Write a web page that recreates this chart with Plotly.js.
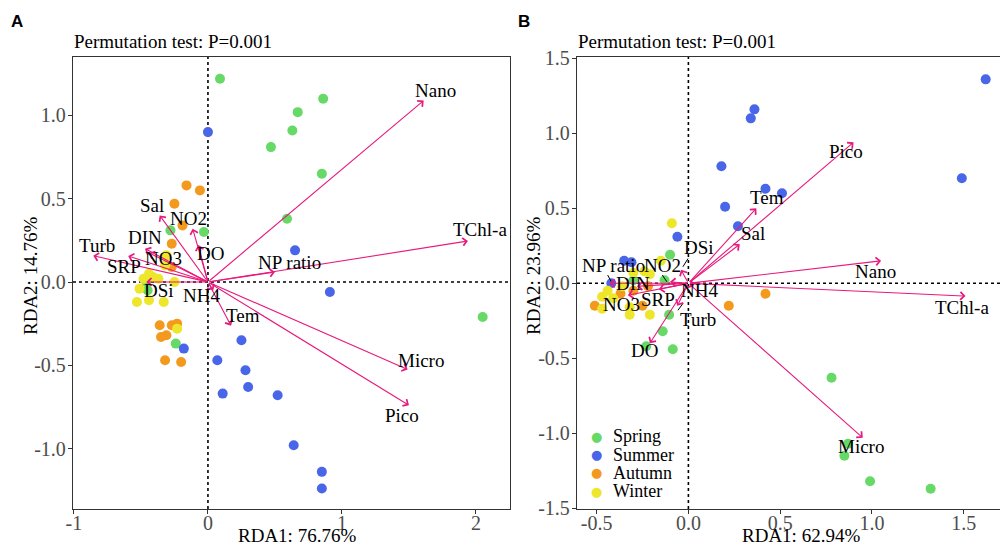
<!DOCTYPE html>
<html>
<head>
<meta charset="utf-8">
<script src="https://cdn.plot.ly/plotly-3.0.1.min.js"></script>
<style>html,body{margin:0;padding:0;background:#fff;}#chart{width:1000px;height:546px;}</style>
</head>
<body>
<div id="chart"></div>
<script>
// ---------- Data ----------
const seasons = ['Spring', 'Summer', 'Autumn', 'Winter'];
const seasonColors = ['#66D966', '#4A66E8', '#F39A1E', '#EDE62A'];

// Panel A sample scores
const A_spring_x = [0.09, 0.86, 0.67, 0.63, 0.47, 0.85, 0.59, -0.03, -0.28, 2.05, -0.24, -0.46, -0.45];
const A_spring_y = [1.22, 1.10, 1.02, 0.91, 0.81, 0.65, 0.38, 0.30, 0.31, -0.21, -0.37, 0.00, -0.05];
const A_summer_x = [0.00, 0.65, 0.91, 0.25, 0.07, 0.28, 0.30, 0.11, 0.52, 0.64, 0.85, 0.85, -0.18];
const A_summer_y = [0.90, 0.19, -0.06, -0.35, -0.47, -0.53, -0.63, -0.67, -0.68, -0.98, -1.14, -1.24, -0.40];
const A_autumn_x = [-0.16, -0.06, -0.25, -0.19, -0.27, -0.27, -0.36, -0.27, -0.23, -0.31, -0.35, -0.32, -0.20];
const A_autumn_y = [0.58, 0.55, 0.47, 0.34, 0.23, 0.09, -0.26, -0.26, -0.25, -0.32, -0.33, -0.47, -0.48];
const A_winter_x = [-0.31, -0.32, -0.48, -0.44, -0.37, -0.25, -0.51, -0.53, -0.44, -0.33, -0.23, -0.41];
const A_winter_y = [0.16, 0.10, 0.02, 0.05, 0.02, 0.00, -0.04, -0.12, -0.11, -0.12, -0.28, 0.03];

// Panel A environmental arrows
const A_env = ['Nano', 'TChl-a', 'NP ratio', 'Micro', 'Pico', 'Tem', 'NH4', 'DO', 'NO2', 'Sal', 'DIN', 'NO3', 'Turb', 'SRP', 'DSi'];
const A_arrow_x = [1.61, 1.94, 0.50, 1.49, 1.50, 0.172, 0.04, -0.072, -0.114, -0.36, -0.47, -0.44, -0.856, -0.595, -0.46];
const A_arrow_y = [1.09, 0.246, 0.06, -0.525, -0.74, -0.262, -0.05, 0.222, 0.32, 0.40, 0.20, 0.175, 0.158, 0.156, 0.0];
const A_label_x = [1.70, 2.03, 0.61, 1.59, 1.45, 0.26, -0.047, 0.022, -0.147, -0.415, -0.47, -0.33, -0.83, -0.63, -0.366];
const A_label_y = [1.15, 0.315, 0.12, -0.47, -0.80, -0.20, -0.084, 0.172, 0.38, 0.46, 0.27, 0.14, 0.22, 0.096, -0.054];

// Panel B sample scores
const B_spring_x = [-0.10, -0.13, -0.105, -0.14, -0.085, -0.23, 0.78, 0.87, 0.85, 0.99, 1.32, -0.30];
const B_spring_y = [0.19, 0.02, -0.21, -0.32, -0.44, -0.42, -0.63, -1.07, -1.15, -1.32, -1.37, 0.02];
const B_summer_x = [1.62, 0.36, 0.34, 0.18, 0.42, 0.51, 0.20, 1.49, 0.27, -0.06, -0.35, -0.31, -0.42];
const B_summer_y = [1.36, 1.16, 1.10, 0.78, 0.63, 0.60, 0.51, 0.70, 0.38, 0.31, 0.15, 0.14, 0.00];
const B_autumn_x = [0.42, 0.22, -0.51, -0.25, -0.22, -0.37, -0.30];
const B_autumn_y = [-0.07, -0.15, -0.15, -0.15, -0.02, -0.07, -0.05];
const B_winter_x = [-0.09, -0.15, -0.21, -0.30, -0.24, -0.44, -0.47, -0.41, -0.47, -0.32, -0.32, -0.21, -0.36];
const B_winter_y = [0.40, 0.15, 0.06, 0.07, 0.08, -0.05, -0.09, -0.10, -0.17, -0.16, -0.21, -0.21, -0.02];

// Panel B environmental arrows
const B_env = ['Pico', 'Tem', 'Sal', 'DSi', 'Nano', 'TChl-a', 'Micro', 'DO', 'Turb', 'NH4', 'SRP', 'NO3', 'DIN', 'NP ratio', 'NO2'];
const B_arrow_x = [0.90, 0.37, 0.28, -0.04, 1.05, 1.51, 0.95, -0.21, -0.06, 0.03, -0.16, -0.33, -0.28, -0.43, -0.10];
const B_arrow_y = [0.94, 0.50, 0.26, 0.09, 0.15, -0.085, -1.03, -0.40, -0.15, -0.02, -0.04, -0.08, -0.02, 0.0, 0.01];
const B_label_x = [0.86, 0.43, 0.35, 0.06, 1.02, 1.49, 0.94, -0.24, 0.05, 0.06, -0.165, -0.365, -0.30, -0.41, -0.14];
const B_label_y = [0.88, 0.57, 0.33, 0.24, 0.08, -0.16, -1.09, -0.45, -0.24, -0.05, -0.11, -0.14, 0.0, 0.12, 0.12];

// Panel B label leader segments (label side -> arrow side)
const B_leader_x0 = [-0.44, -0.142, -0.002, -0.057];
const B_leader_y0 = [0.055, 0.055, 0.165, -0.18];
const B_leader_x1 = [-0.42, -0.117, -0.03, -0.03];
const B_leader_y1 = [0.01, 0.01, 0.11, -0.135];

// Tick labels
const A_xticks = [-1, 0, 1, 2];
const A_xtext = ['-1', '0', '1', '2'];
const A_yticks = [-1.0, -0.5, 0.0, 0.5, 1.0];
const A_ytext = ['-1.0', '-0.5', '0.0', '0.5', '1.0'];
const B_xticks = [-0.5, 0.0, 0.5, 1.0, 1.5];
const B_xtext = ['-0.5', '0.0', '0.5', '1.0', '1.5'];
const B_yticks = [-1.5, -1.0, -0.5, 0.0, 0.5, 1.0, 1.5];
const B_ytext = ['-1.5', '-1.0', '-0.5', '0.0', '0.5', '1.0', '1.5'];

// Titles
const panelTitle = 'Permutation test: P=0.001';
const A_xtitle = 'RDA1: 76.76%';
const A_ytitle = 'RDA2: 14.76%';
const B_xtitle = 'RDA1: 62.94%';
const B_ytitle = 'RDA2: 23.96%';

// ---------- Styles ----------
const serif = 'Liberation Serif';
const sans = 'Liberation Sans';
const arrowColor = '#E8197D';
const textFont = {family: serif, size: 19, color: '#000'};

const A_pts = [[A_spring_x, A_spring_y], [A_summer_x, A_summer_y], [A_autumn_x, A_autumn_y], [A_winter_x, A_winter_y]];
const B_pts = [[B_spring_x, B_spring_y], [B_summer_x, B_summer_y], [B_autumn_x, B_autumn_y], [B_winter_x, B_winter_y]];

const traces = [];
A_pts.forEach((p, i) => traces.push({
  type: 'scatter', mode: 'markers', x: p[0], y: p[1], xaxis: 'x', yaxis: 'y',
  name: seasons[i], showlegend: false,
  marker: {color: seasonColors[i], size: 10}, hoverinfo: 'skip'
}));
B_pts.forEach((p, i) => traces.push({
  type: 'scatter', mode: 'markers', x: p[0], y: p[1], xaxis: 'x2', yaxis: 'y2',
  name: seasons[i], showlegend: false,
  marker: {color: seasonColors[i], size: 10}, hoverinfo: 'skip'
}));

const annotations = [];
function addArrows(env, ax, ay, lx, ly, xr, yr) {
  env.forEach((name, i) => {
    annotations.push({
      xref: xr, yref: yr, axref: xr, ayref: yr,
      x: ax[i], y: ay[i], ax: 0, ay: 0, text: '',
      showarrow: true, arrowhead: 4, arrowsize: 1.4, arrowwidth: 1.1,
      arrowcolor: arrowColor, standoff: 0, startstandoff: 0
    });
  });
  env.forEach((name, i) => {
    annotations.push({
      xref: xr, yref: yr, x: lx[i], y: ly[i], text: name, showarrow: false,
      font: textFont
    });
  });
}
addArrows(A_env, A_arrow_x, A_arrow_y, A_label_x, A_label_y, 'x', 'y');
addArrows(B_env, B_arrow_x, B_arrow_y, B_label_x, B_label_y, 'x2', 'y2');

function px(x) { return x / 1000; }
function py(y) { return (546 - y) / 546; }

annotations.push(
  {xref: 'paper', yref: 'paper', x: px(9), y: py(22), xanchor: 'left', yanchor: 'middle', text: '<b>A</b>', showarrow: false, font: {family: sans, size: 17, color: '#000'}},
  {xref: 'paper', yref: 'paper', x: px(516), y: py(22), xanchor: 'left', yanchor: 'middle', text: '<b>B</b>', showarrow: false, font: {family: sans, size: 17, color: '#000'}},
  {xref: 'paper', yref: 'paper', x: px(72), y: py(42), xanchor: 'left', yanchor: 'middle', text: panelTitle, showarrow: false, font: textFont},
  {xref: 'paper', yref: 'paper', x: px(576), y: py(42), xanchor: 'left', yanchor: 'middle', text: panelTitle, showarrow: false, font: textFont},
  // axis titles
  {xref: 'paper', yref: 'paper', x: px(297), y: py(535), xanchor: 'center', yanchor: 'middle', text: A_xtitle, showarrow: false, font: textFont},
  {xref: 'paper', yref: 'paper', x: px(801), y: py(535), xanchor: 'center', yanchor: 'middle', text: B_xtitle, showarrow: false, font: textFont},
  {xref: 'paper', yref: 'paper', x: px(30), y: py(276), xanchor: 'center', yanchor: 'middle', textangle: -90, text: A_ytitle, showarrow: false, font: textFont},
  {xref: 'paper', yref: 'paper', x: px(533), y: py(276), xanchor: 'center', yanchor: 'middle', textangle: -90, text: B_ytitle, showarrow: false, font: textFont}
);

// Legend (inside panel B, bottom-left)
const legendY = [436, 454.5, 472.5, 491];
seasons.forEach((s, i) => {
  annotations.push({
    xref: 'paper', yref: 'paper', x: px(596), y: py(legendY[i]), xanchor: 'center', yanchor: 'middle',
    text: '<span style="color:' + seasonColors[i] + '">●</span>', showarrow: false,
    font: {family: 'DejaVu Sans', size: 13, color: seasonColors[i]}
  });
  annotations.push({
    xref: 'paper', yref: 'paper', x: px(611), y: py(legendY[i]), xanchor: 'left', yanchor: 'middle',
    text: s, showarrow: false, font: {family: serif, size: 18, color: '#000'}
  });
});

const shapes = [];
function zeroLines(xr, yr) {
  const dom = {type: 'line', line: {color: '#000', width: 1.6, dash: 'dot'}, layer: 'below'};
  shapes.push(Object.assign({}, dom, {xref: xr + ' domain', yref: yr, x0: 0, x1: 1, y0: 0, y1: 0}));
  shapes.push(Object.assign({}, dom, {xref: xr, yref: yr + ' domain', x0: 0, x1: 0, y0: 0, y1: 1}));
}
zeroLines('x', 'y');
zeroLines('x2', 'y2');
B_leader_x0.forEach((v, i) => shapes.push({
  type: 'line', xref: 'x2', yref: 'y2', x0: v, y0: B_leader_y0[i], x1: B_leader_x1[i], y1: B_leader_y1[i],
  line: {color: '#000', width: 1}
}));

function axisBase() {
  return {
    showgrid: false, zeroline: false, showline: true, linecolor: '#333', linewidth: 1.2,
    ticks: 'outside', ticklen: 4, tickcolor: '#333', tickwidth: 1,
    tickfont: {family: serif, size: 20, color: '#4D4D4D'},
    tickmode: 'array'
  };
}

const yDom = [37 / 546, 489 / 546];
const layout = {
  width: 1000, height: 546,
  margin: {l: 0, r: 0, t: 0, b: 0},
  font: {family: serif, size: 19, color: '#000'},
  paper_bgcolor: '#fff', plot_bgcolor: '#fff',
  showlegend: false,
  xaxis: Object.assign(axisBase(), {
    domain: [0.073, 0.51], range: [-1.007, 2.254], mirror: true, anchor: 'y',
    tickvals: A_xticks, ticktext: A_xtext, ticklabelstandoff: -8
  }),
  yaxis: Object.assign(axisBase(), {
    domain: yDom, range: [-1.363, 1.351], mirror: true, anchor: 'x',
    tickvals: A_yticks, ticktext: A_ytext, ticklabelstandoff: -2
  }),
  xaxis2: Object.assign(axisBase(), {
    domain: [0.577, 1.0], range: [-0.607, 1.698], mirror: true, anchor: 'y2',
    tickvals: B_xticks, ticktext: B_xtext, ticklabelstandoff: -8
  }),
  yaxis2: Object.assign(axisBase(), {
    domain: yDom, range: [-1.505, 1.509], mirror: false, anchor: 'x2',
    tickvals: B_yticks, ticktext: B_ytext, ticklabelstandoff: -2
  }),
  annotations: annotations,
  shapes: shapes
};

Plotly.newPlot('chart', traces, layout, {displayModeBar: false, staticPlot: true});
</script>
</body>
</html>
